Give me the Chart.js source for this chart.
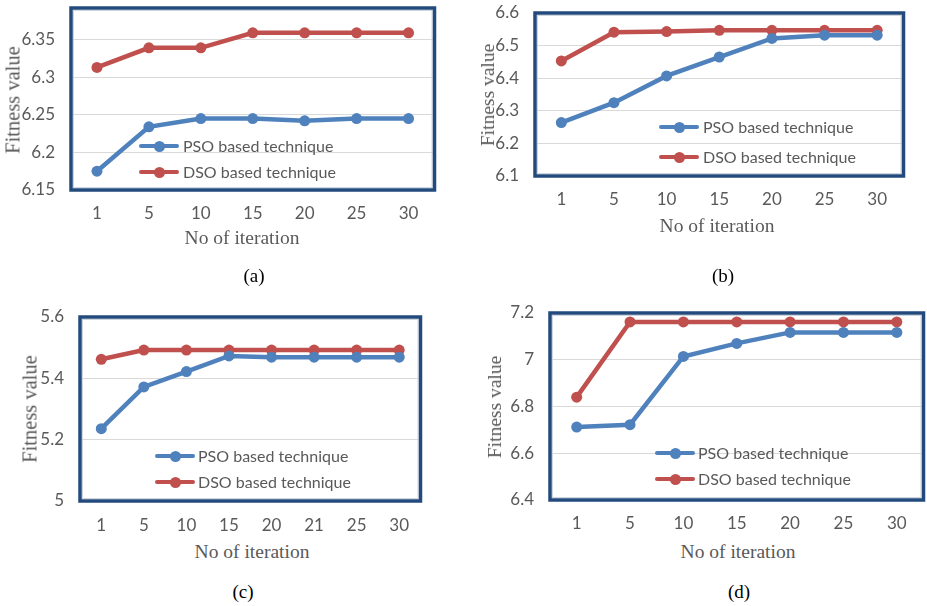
<!DOCTYPE html>
<html>
<head>
<meta charset="utf-8">
<script src="https://cdn.jsdelivr.net/npm/chart.js@4.4.1/dist/chart.umd.min.js"></script>
<style>
    html, body { margin: 0; padding: 0; background: #fff; }
    #page { position: relative; width: 927px; height: 606px; overflow: hidden; }
    canvas { position: absolute; }
    .txt { position: absolute; white-space: nowrap; transform: translate(-50%, -50%); font-family: "Liberation Serif", "Times New Roman", serif; color: #595959; }
    .cap { color: #000; }
    .leg { position: absolute; font-family: Lato, sans-serif; font-size: 16px; color: #595959; white-space: nowrap; }
    .leg-line { position: absolute; height: 4.5px; width: 40px; border-radius: 2px; }
    .leg-dot { position: absolute; width: 11px; height: 11px; border-radius: 50%; }
</style>
</head>
<body>
<div id="page"></div>
<script>
    // iterations per panel
    const iterationsA = ["1", "5", "10", "15", "20", "25", "30"];
    const iterationsB = ["1", "5", "10", "15", "20", "25", "30"];
    const iterationsC = ["1", "5", "10", "15", "20", "21", "25", "30"];
    const iterationsD = ["1", "5", "10", "15", "20", "25", "30"];

    // fitness values
    const psoA = [6.175, 6.234, 6.245, 6.245, 6.242, 6.245, 6.245];
    const dsoA = [6.313, 6.339, 6.339, 6.359, 6.359, 6.359, 6.359];
    const psoB = [6.264, 6.325, 6.407, 6.465, 6.522, 6.532, 6.532];
    const dsoB = [6.453, 6.541, 6.543, 6.547, 6.547, 6.547, 6.547];
    const psoC = [5.236, 5.372, 5.422, 5.473, 5.469, 5.469, 5.469, 5.469];
    const dsoC = [5.462, 5.492, 5.492, 5.492, 5.492, 5.492, 5.492, 5.492];
    const psoD = [6.712, 6.722, 7.014, 7.070, 7.117, 7.117, 7.117];
    const dsoD = [6.840, 7.162, 7.162, 7.162, 7.162, 7.162, 7.162];

    // y tick labels
    const ticksA = [6.15, 6.2, 6.25, 6.3, 6.35];
    const ticksB = [6.1, 6.2, 6.3, 6.4, 6.5, 6.6];
    const ticksC = [5, 5.2, 5.4, 5.6];
    const ticksD = [6.4, 6.6, 6.8, 7, 7.2];

    const seriesNames = ["PSO based technique", "DSO based technique"];
    const xTitle = "No of iteration";
    const yTitle = "Fitness value";

    const blue = "#4f81bd";
    const red = "#c0504d";
    const frameColor = "#234a7c";

    Chart.defaults.font.family = "Lato, sans-serif";
    Chart.defaults.font.size = 17;
    Chart.defaults.color = "#595959";

    const page = document.getElementById("page");

    const framePlugin = {
        id: "frame",
        afterDraw(chart) {
            const { ctx, chartArea: a } = chart;
            ctx.save();
            ctx.strokeStyle = "#cfd5dc";
            ctx.lineWidth = 1;
            ctx.strokeRect(a.left + 2.5, a.top + 2.5, a.width - 5, a.height - 5);
            ctx.strokeStyle = frameColor;
            ctx.lineWidth = 3.5;
            ctx.strokeRect(a.left, a.top, a.width, a.height);
            ctx.restore();
        }
    };

    const addText = (text, x, y, size, cls, rotate) => {
        const el = document.createElement("div");
        el.className = "txt " + (cls || "");
        el.textContent = text;
        el.style.left = x + "px";
        el.style.top = y + "px";
        el.style.fontSize = size + "px";
        if (rotate) el.style.transform = "translate(-50%, -50%) rotate(-90deg)";
        page.appendChild(el);
    };

    const addLegend = (lx, rows, tx) => {
        [[blue, rows[0]], [red, rows[1]]].forEach(([color, y], i) => {
            const line = document.createElement("div");
            line.className = "leg-line";
            line.style.background = color;
            line.style.left = lx + "px";
            line.style.top = (y - 2.25) + "px";
            page.appendChild(line);
            const dot = document.createElement("div");
            dot.className = "leg-dot";
            dot.style.background = color;
            dot.style.left = (lx + 14.5) + "px";
            dot.style.top = (y - 5.5) + "px";
            page.appendChild(dot);
            const label = document.createElement("div");
            label.className = "leg";
            label.textContent = seriesNames[i];
            label.style.left = tx + "px";
            label.style.top = (y - 10) + "px";
            page.appendChild(label);
        });
    };

    const makePanel = (p) => {
        const padL = 70, padT = 20, padR = 4, padB = 40;
        const canvas = document.createElement("canvas");
        const w = p.area.w + padL + padR;
        const h = p.area.h + padT + padB;
        canvas.width = w;
        canvas.height = h;
        canvas.style.left = (p.area.x - padL) + "px";
        canvas.style.top = (p.area.y - padT) + "px";
        canvas.style.width = w + "px";
        canvas.style.height = h + "px";
        page.appendChild(canvas);

        const line = (data, color) => ({
            data,
            borderColor: color,
            backgroundColor: color,
            borderWidth: 4.5,
            pointRadius: 5.5,
            pointHoverRadius: 5.5,
            pointBorderWidth: 0,
            tension: 0,
            clip: false
        });

        new Chart(canvas, {
            type: "line",
            data: {
                labels: p.labels,
                datasets: [line(p.pso, blue), line(p.dso, red)]
            },
            options: {
                responsive: false,
                animation: false,
                events: [],
                layout: { padding: { top: padT, right: padR, left: 0, bottom: 0 } },
                plugins: { legend: { display: false }, tooltip: { enabled: false } },
                scales: {
                    x: {
                        offset: true,
                        grid: { display: false },
                        border: { display: false },
                        ticks: { padding: p.xPad, maxRotation: 0 },
                        afterFit: (s) => {
                            s.height = padB;
                            s.paddingLeft = 0;
                            s.paddingRight = 0;
                        }
                    },
                    y: {
                        min: p.ticks[0],
                        max: p.max,
                        grid: { color: "#d9d9d9", lineWidth: 1, drawTicks: false },
                        border: { display: false },
                        ticks: {
                            padding: 16,
                            callback: (v) => String(+Number(v).toFixed(2))
                        },
                        afterBuildTicks: (s) => { s.ticks = p.ticks.map((v) => ({ value: v })); },
                        afterFit: (s) => {
                            s.width = padL;
                            s.paddingTop = 0;
                            s.paddingBottom = 0;
                        }
                    }
                }
            },
            plugins: [framePlugin]
        });

        addLegend(p.legend[0], [p.legend[1], p.legend[2]], p.legend[3]);
        addText(xTitle, p.xt[0], p.xt[1], p.titleSize, "");
        addText(yTitle, p.yt[0], p.yt[1], p.ySize, "", true);
        addText(p.caption, p.cap[0], p.cap[1], 19, "cap");
    };

    makePanel({
        labels: iterationsA, pso: psoA, dso: dsoA, ticks: ticksA, max: 6.392,
        area: { x: 71, y: 8, w: 365, h: 182 }, xPad: 5,
        legend: [139, 146, 172, 183],
        xt: [242, 238], yt: [13, 100], cap: [254, 276], titleSize: 19.5, ySize: 20.5, caption: "(a)"
    });
    makePanel({
        labels: iterationsB, pso: psoB, dso: dsoB, ticks: ticksB, max: 6.6,
        area: { x: 535, y: 13, w: 370, h: 163 }, xPad: 5,
        legend: [659, 127, 157, 703],
        xt: [717, 226], yt: [488, 95], cap: [723, 276], titleSize: 19.5, ySize: 19.5, caption: "(b)"
    });
    makePanel({
        labels: iterationsC, pso: psoC, dso: dsoC, ticks: ticksC, max: 5.6,
        area: { x: 80, y: 317, w: 342, h: 184 }, xPad: 6,
        legend: [155, 456, 482, 198],
        xt: [252, 552], yt: [30, 409], cap: [243, 592], titleSize: 19.5, ySize: 20.5, caption: "(c)"
    });
    makePanel({
        labels: iterationsD, pso: psoD, dso: dsoD, ticks: ticksD, max: 7.2,
        area: { x: 550, y: 313, w: 375, h: 187 }, xPad: 5,
        legend: [655, 453, 479, 698],
        xt: [738, 552], yt: [495, 407], cap: [739, 592], titleSize: 19.5, ySize: 19.5, caption: "(d)"
    });
</script>
</body>
</html>
